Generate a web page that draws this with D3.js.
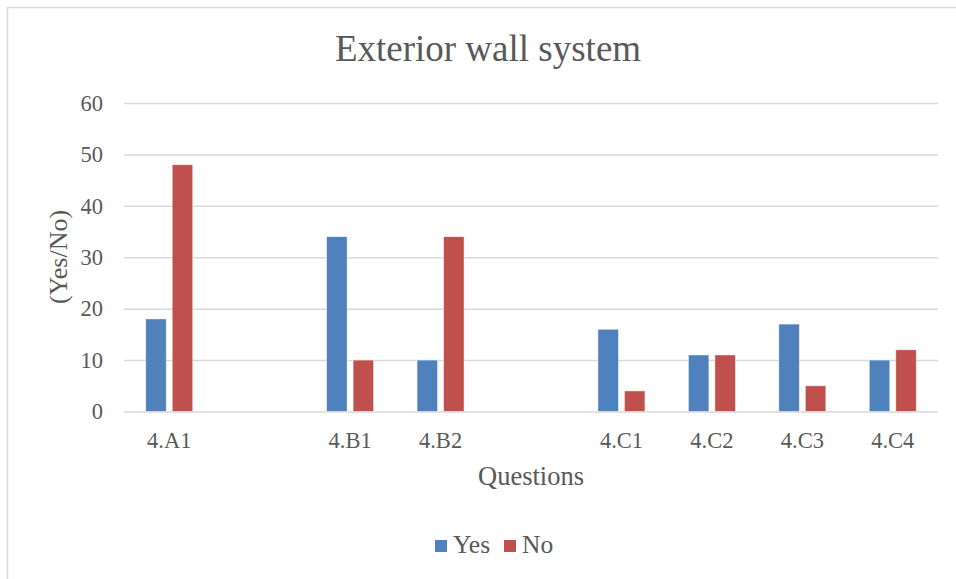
<!DOCTYPE html>
<html>
<head>
<meta charset="utf-8">
<script src="https://cdn.jsdelivr.net/npm/d3@7"></script>
<style>
  body { margin: 0; background: #fff; }
  text { font-family: "Liberation Serif", "Times New Roman", serif; fill: #595959; }
</style>
</head>
<body>
<svg width="956" height="579"></svg>
<script>
// chart data
const categories = ["4.A1", "", "4.B1", "4.B2", " ", "4.C1", "4.C2", "4.C3", "4.C4"];
const yesValues = [18, null, 34, 10, null, 16, 11, 17, 10];
const noValues = [48, null, 10, 34, null, 4, 11, 5, 12];
const seriesNames = ["Yes", "No"];
const colors = ["#4F81BD", "#C0504D"];
const yTicks = [0, 10, 20, 30, 40, 50, 60];

const svg = d3.select("svg");
const plotLeft = 124, plotRight = 938, plotTop = 103, plotBottom = 411.5;

// chart border
svg.append("rect").attr("x", 7.5).attr("y", 7.5).attr("width", 960).attr("height", 600)
  .attr("fill", "none").attr("stroke", "#d9d9d9").attr("stroke-width", 1.5);

const x = d3.scaleBand().domain(categories).range([plotLeft, plotRight]);
const y = d3.scaleLinear().domain([0, 60]).range([plotBottom, plotTop]);
const x1 = d3.scaleBand().domain(seriesNames).range([-23.5, 23.5]).paddingInner(0.226);

// gridlines
svg.append("g")
  .attr("transform", "translate(" + plotLeft + ",0)")
  .call(d3.axisLeft(y).tickValues(yTicks).tickSize(-(plotRight - plotLeft)).tickPadding(21))
  .call(g => g.select(".domain").remove())
  .call(g => g.selectAll("line").attr("stroke", "#d9d9d9").attr("stroke-width", 1.5))
  .call(g => g.selectAll("text").attr("font-size", "22.5px").attr("fill", "#595959")
    .style("font-family", "'Liberation Serif', serif"));

// x axis labels
svg.append("g")
  .attr("transform", "translate(0," + plotBottom + ")")
  .call(d3.axisBottom(x).tickSize(0).tickPadding(21))
  .call(g => g.select(".domain").remove())
  .call(g => g.selectAll("text").attr("font-size", "22.5px").attr("fill", "#595959")
    .style("font-family", "'Liberation Serif', serif"));

const rows = categories.map((c, i) => ({ cat: c, vals: [yesValues[i], noValues[i]] }));

const groups = svg.append("g").selectAll("g")
  .data(rows)
  .enter().append("g")
  .attr("transform", d => "translate(" + (x(d.cat) + x.bandwidth() / 2) + ",0)");

groups.selectAll("rect")
  .data(d => d.vals.map((v, j) => ({ name: seriesNames[j], v: v, c: colors[j] })).filter(d => d.v != null))
  .enter().append("rect")
  .attr("x", d => x1(d.name))
  .attr("y", d => y(d.v))
  .attr("width", x1.bandwidth())
  .attr("height", d => plotBottom - y(d.v))
  .attr("fill", d => d.c)
  .attr("stroke", "#fff")
  .attr("stroke-opacity", 0.6)
  .attr("stroke-width", 0.8);

// title
svg.append("text").attr("x", 488).attr("y", 61).attr("text-anchor", "middle")
  .attr("font-size", "37px").text("Exterior wall system");

// axis titles
svg.append("text").attr("x", 531).attr("y", 485).attr("text-anchor", "middle")
  .attr("font-size", "26.5px").text("Questions");
svg.append("text").attr("transform", "translate(67,257) rotate(-90)").attr("text-anchor", "middle")
  .attr("font-size", "26px").text("(Yes/No)");

// legend
const legend = svg.append("g").attr("transform", "translate(435,553)");
const items = [{ n: "Yes", c: colors[0], dx: 0 }, { n: "No", c: colors[1], dx: 69 }];
items.forEach(it => {
  legend.append("rect").attr("x", it.dx).attr("y", -13).attr("width", 12).attr("height", 12).attr("fill", it.c);
  legend.append("text").attr("x", it.dx + 18).attr("y", 0).attr("font-size", "25.5px").text(it.n);
});
</script>
</body>
</html>
